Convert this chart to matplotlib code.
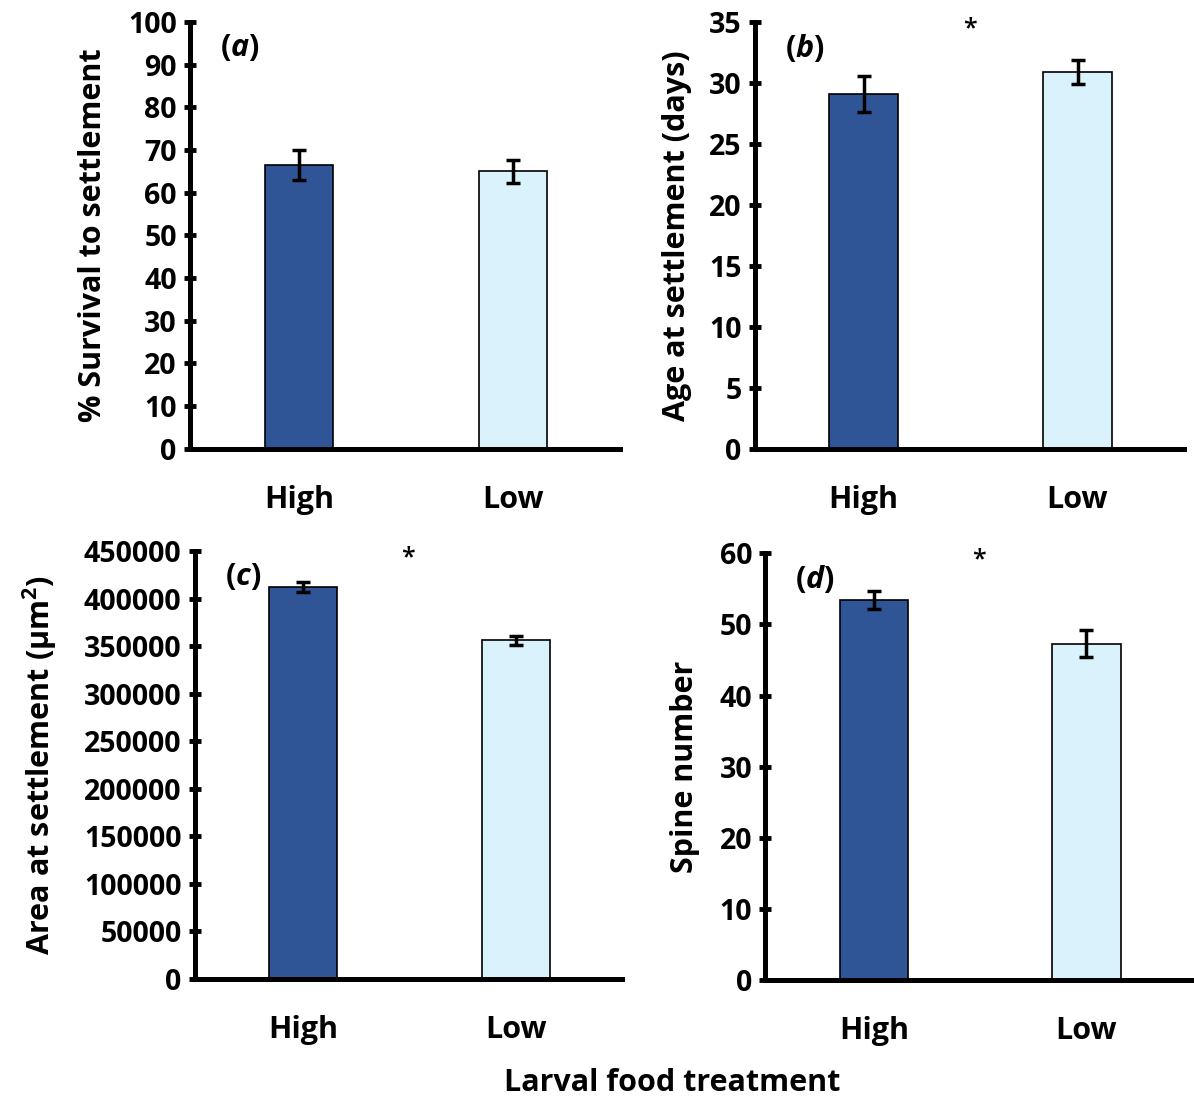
import matplotlib.pyplot as plt

plt.rcParams["font.family"] = ["Open Sans", "DejaVu Sans"]
plt.rcParams["font.weight"] = "bold"
plt.rcParams["mathtext.fontset"] = "custom"
plt.rcParams["mathtext.it"] = "Open Sans:italic:bold"
plt.rcParams["mathtext.bf"] = "Open Sans:bold"
plt.rcParams["mathtext.rm"] = "Open Sans:bold"

treatments = ["High", "Low"]
bar_colors = ["#2F5597", "#DAF2FC"]

survival = [66.5, 65.0]
survival_se = [3.5, 2.7]

age = [29.1, 30.9]
age_se = [1.45, 1.0]

area = [412000, 356000]
area_se = [5000, 4500]

spines = [53.4, 47.3]
spines_se = [1.3, 1.9]

panels = [
    # (values, errors, ylim, yticks step, ylabel, tag, significant, axes rect, labelpad)
    (survival, survival_se, 100, 10, "% Survival to settlement", "a", False,
     [0.159, 0.592, 0.360, 0.388], 14),
    (age, age_se, 35, 5, "Age at settlement (days)", "b", True,
     [0.632, 0.592, 0.360, 0.388], 12),
    (area, area_se, 450000, 50000, r"Area at settlement (µm$^{\mathbf{2}}$)", "c", True,
     [0.163, 0.110, 0.358, 0.389], 18),
    (spines, spines_se, 60, 10, "Spine number", "d", True,
     [0.641, 0.109, 0.358, 0.388], 14),
]

fig = plt.figure(figsize=(11.94, 11), dpi=100)

for vals, errs, ymax, step, ylabel, tag, sig, rect, lpad in panels:
    ax = fig.add_axes(rect)
    x = range(len(treatments))
    ax.bar(x, vals, width=0.32, color=bar_colors, edgecolor="black", linewidth=1.2, zorder=2)
    ax.errorbar(x, vals, yerr=errs, fmt="none", ecolor="black", elinewidth=2.5,
                capsize=5, capthick=2.5, zorder=3)
    ax.set_xlim(-0.51, 1.5)
    ax.set_ylim(0, ymax)
    ax.set_yticks(range(0, ymax + 1, step))
    ax.set_xticks(list(x))
    ax.set_xticklabels(treatments, fontsize=22, fontweight="bold")
    ax.tick_params(axis="x", length=0, pad=26)
    ax.tick_params(axis="y", direction="inout", length=9, width=3.5, labelsize=20.5, pad=5)
    for lab in ax.get_yticklabels():
        lab.set_fontweight("bold")
    ax.set_ylabel(ylabel, fontsize=22, fontweight="bold", labelpad=lpad)
    for side in ["top", "right"]:
        ax.spines[side].set_visible(False)
    for side in ["left", "bottom"]:
        ax.spines[side].set_linewidth(3.6)
    ax.text(0.07, 0.94, "($\\mathit{" + tag + "}$)", transform=ax.transAxes,
            fontsize=22, fontweight="bold", ha="left", va="center")
    if sig:
        ax.text(0.5, 0.985, "*", transform=ax.transAxes, fontsize=18,
                fontweight="semibold", ha="center", va="center")

fig.text(0.563, 0.0155, "Larval food treatment", fontsize=22, fontweight="bold",
         ha="center", va="center")

fig.savefig("out.png", dpi=100)
